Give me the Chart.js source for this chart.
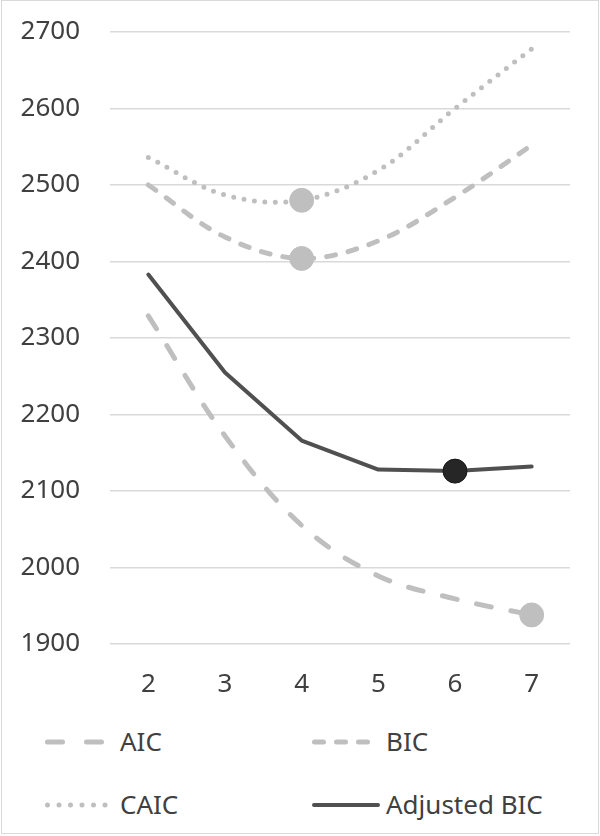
<!DOCTYPE html>
<html>
<head>
<meta charset="utf-8">
<script src="https://cdn.jsdelivr.net/npm/chart.js@4"></script>
<style>
  html, body { margin: 0; padding: 0; background: #fff; }
  #frame { position: absolute; left: 1px; top: 0; width: 596px; height: 832px; border: 1px solid #d9d9d9; }
  #wrap { position: absolute; left: 0; top: 0; width: 600px; height: 720px; }
  .leg { position: absolute; font-family: "Noto Sans", sans-serif; font-size: 26px; color: #404040; line-height: 30px; white-space: nowrap; }
  .sw { position: absolute; }
</style>
</head>
<body>
<div id="frame"></div>
<div id="wrap"><canvas id="c" width="600" height="720"></canvas></div>
<div id="legend"></div>
<script>
const categories = ['2', '3', '4', '5', '6', '7'];
const aic = [2329, 2172, 2055, 1989, 1959, 1938];
const bic = [2500, 2432, 2404, 2427, 2484, 2552];
const caic = [2536, 2487, 2480, 2519, 2600, 2678];
const adjustedBic = [2383, 2255, 2166, 2128, 2126, 2132];
const seriesNames = ['AIC', 'BIC', 'CAIC', 'Adjusted BIC'];
const yMin = 1900, yMax = 2700, yStep = 100;

const gray = '#bfbfbf';
const dark = '#505050';

function minIdx(arr) { let m = 0; arr.forEach((v, i) => { if (v < arr[m]) m = i; }); return m; }
function markRadius(arr, r) { const m = minIdx(arr); return arr.map((_, i) => i === m ? r : 0); }

const styles = [
  { color: gray, width: 5, dash: [15, 20], tension: 0.35, mfill: gray, mborder: gray },
  { color: gray, width: 5, dash: [9, 13], tension: 0.35, mfill: gray, mborder: gray },
  { color: gray, width: 5, dash: [0, 10.5], tension: 0.35, mfill: gray, mborder: gray },
  { color: dark, width: 4, dash: [], tension: 0, mfill: '#262626', mborder: '#151515' }
];
const values = [aic, bic, caic, adjustedBic];

const datasets = values.map((v, k) => ({
  label: seriesNames[k],
  data: v,
  borderColor: styles[k].color,
  borderWidth: styles[k].width,
  borderDash: styles[k].dash,
  borderCapStyle: 'round',
  borderJoinStyle: 'round',
  tension: styles[k].tension,
  fill: false,
  pointRadius: markRadius(v, 12),
  pointHoverRadius: markRadius(v, 12),
  pointBackgroundColor: styles[k].mfill,
  pointBorderColor: styles[k].mborder,
  pointBorderWidth: 1
}));

new Chart(document.getElementById('c'), {
  type: 'line',
  data: { labels: categories, datasets: datasets },
  options: {
    responsive: false,
    animation: false,
    devicePixelRatio: 1,
    layout: { padding: { top: 32, right: 30, left: 0, bottom: 0 } },
    plugins: { legend: { display: false }, tooltip: { enabled: false } },
    scales: {
      x: {
        offset: true,
        grid: { display: false, drawTicks: false },
        border: { display: false },
        ticks: { color: '#404040', font: { family: 'Noto Sans', size: 26 }, padding: 25 },
        afterFit: s => { s.height = 76; s.paddingLeft = 0; s.paddingRight = 0; }
      },
      y: {
        min: yMin, max: yMax,
        grid: { color: '#d9d9d9', lineWidth: 1.5, drawTicks: false },
        border: { display: false },
        ticks: { stepSize: yStep, color: '#404040', font: { family: 'Noto Sans', size: 26 }, padding: 30,
                 callback: v => String(v) },
        afterFit: s => { s.width = 110; s.paddingTop = 0; s.paddingBottom = 0; }
      }
    }
  }
});

// Legend (HTML text + SVG line samples)
const legendPos = [
  { x: 45, y: 742, tx: 120 },
  { x: 312, y: 742, tx: 386 },
  { x: 45, y: 805, tx: 120 },
  { x: 312, y: 805, tx: 386 }
];
const legendDash = ['15,24', '9,13', '0,11.5', ''];
const legendLen = [60, 59, 63, 68];
const leg = document.getElementById('legend');
seriesNames.forEach((name, k) => {
  const p = legendPos[k];
  const w = styles[k].width;
  const svg = document.createElementNS('http://www.w3.org/2000/svg', 'svg');
  svg.setAttribute('class', 'sw');
  svg.setAttribute('width', legendLen[k] + 10);
  svg.setAttribute('height', 12);
  svg.style.left = (p.x - 5) + 'px';
  svg.style.top = (p.y - 6) + 'px';
  const ln = document.createElementNS('http://www.w3.org/2000/svg', 'line');
  ln.setAttribute('x1', 5 + w / 2);
  ln.setAttribute('x2', 5 + legendLen[k] - w / 2);
  ln.setAttribute('y1', 6); ln.setAttribute('y2', 6);
  ln.setAttribute('stroke', styles[k].color);
  ln.setAttribute('stroke-width', w);
  ln.setAttribute('stroke-linecap', 'round');
  if (legendDash[k]) ln.setAttribute('stroke-dasharray', legendDash[k]);
  svg.appendChild(ln);
  leg.appendChild(svg);
  const t = document.createElement('div');
  t.className = 'leg';
  t.textContent = name;
  t.style.left = p.tx + 'px';
  t.style.top = (p.y - 16) + 'px';
  leg.appendChild(t);
});
</script>
</body>
</html>
